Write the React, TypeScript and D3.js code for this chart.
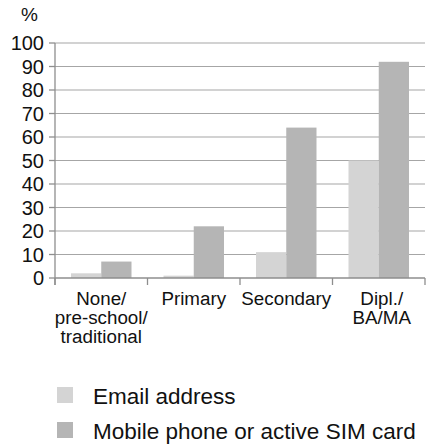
import React from "react";
import * as d3 from "d3";

const categories: string[][] = [
  ["None/", "pre-school/", "traditional"],
  ["Primary"],
  ["Secondary"],
  ["Dipl./", "BA/MA"],
];
const categoryKeys = ["none", "primary", "secondary", "dipl"];
const emailValues = [2, 1, 11, 50];
const mobileValues = [7, 22, 64, 92];
const seriesNames = ["Email address", "Mobile phone or active SIM card"];
const seriesColors = ["#d4d4d4", "#b5b5b5"];
const yTicks = [0, 10, 20, 30, 40, 50, 60, 70, 80, 90, 100];

const W = 428;
const H = 446;
const left = 55;
const right = 425;
const top = 43;
const bottom = 278;
const FONT = "'Liberation Sans', Arial, Helvetica, sans-serif";

export default function App() {
  const x = d3.scaleBand<string>().domain(categoryKeys).range([left, right]).padding(0);
  const bw = x.bandwidth();
  const x1 = d3.scaleBand<number>().domain([0, 1]).range([16, bw - 16]).padding(0);
  const y = d3.scaleLinear().domain([0, 100]).range([bottom, top]);
  const series = [emailValues, mobileValues];
  const axisColor = "#8e8e8e";
  const gridColor = "#a6a6a6";

  const boundaries = [...categoryKeys.map((k) => x(k) as number), right];

  return (
    <svg
      width={W}
      height={H}
      style={{ position: "absolute", left: 0, top: 0, background: "#fff" }}
      fontFamily={FONT}
    >
      <rect width={W} height={H} fill="#fff" />
      {yTicks.filter((t) => t > 0).map((t) => (
        <line key={t} x1={left} x2={right} y1={y(t)} y2={y(t)} stroke={gridColor} strokeWidth={1.2} />
      ))}
      {categoryKeys.map((k, i) => (
        <g key={k} transform={`translate(${x(k)},0)`}>
          {series.map((vals, s) => (
            <rect
              key={s}
              x={x1(s)}
              width={x1.bandwidth()}
              y={y(vals[i])}
              height={y(0) - y(vals[i])}
              fill={seriesColors[s]}
            />
          ))}
        </g>
      ))}
      <line x1={left} x2={left} y1={top} y2={bottom + 7} stroke={axisColor} strokeWidth={1.3} />
      <line x1={left} x2={right} y1={bottom} y2={bottom} stroke={axisColor} strokeWidth={1.3} />
      {yTicks.map((t) => (
        <g key={t}>
          <line x1={left - 6} x2={left} y1={y(t)} y2={y(t)} stroke={axisColor} strokeWidth={1.3} />
          <text x={44} y={y(t)} dy="0.35em" textAnchor="end" fontSize={20} fill="#111">
            {t}
          </text>
        </g>
      ))}
      {boundaries.map((b, i) => (
        <line key={i} x1={b} x2={b} y1={bottom} y2={bottom + 7} stroke={axisColor} strokeWidth={1.3} />
      ))}
      {categoryKeys.map((k, i) => (
        <text key={k} textAnchor="middle" fontSize={18.8} fill="#111">
          {categories[i].map((line, j) => (
            <tspan key={j} x={(x(k) as number) + bw / 2 + (i === 3 ? 3 : 0)} y={305 + j * 19}>
              {line}
            </tspan>
          ))}
        </text>
      ))}
      <text x={29.5} y={21} textAnchor="middle" fontSize={19} fill="#111">
        %
      </text>
      {seriesNames.map((name, s) => (
        <g key={name} transform={`translate(57, ${387 + s * 35})`}>
          <rect width={16} height={16} fill={seriesColors[s]} />
          <text x={36} y={17} fontSize={22.5} fill="#111">
            {name}
          </text>
        </g>
      ))}
    </svg>
  );
}
